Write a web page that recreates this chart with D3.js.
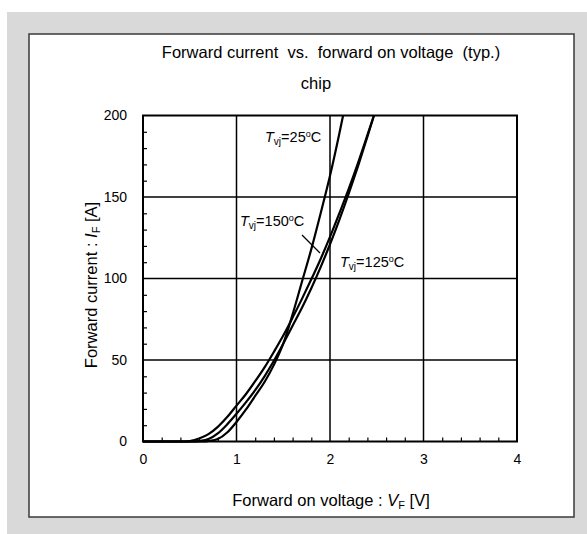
<!DOCTYPE html>
<html>
<head>
<meta charset="utf-8">
<script src="https://cdn.jsdelivr.net/npm/d3@7"></script>
<style>
  html, body { margin: 0; padding: 0; background: #fff; }
  svg { display: block; font-family: "Liberation Sans", Arial, sans-serif; }
  text { white-space: pre; }
</style>
</head>
<body>
<svg id="chart" width="587" height="534"></svg>
<script>
// Forward characteristic of the diode chip at three junction temperatures
const xTicks = [0, 1, 2, 3, 4];
const yTicks = [0, 50, 100, 150, 200];

// [V_F (V), I_F (A)]
const curve25 = [[0,0],[0.65,0],[0.7,0.3],[0.8,1.5],[0.9,5.5],[1.0,12],[1.1,19.5],[1.2,28],[1.3,36.5],
  [1.4,47],[1.5,60],[1.6,78],[1.7,98],[1.8,118],[1.9,140],[2.0,163],[2.1,189],[2.14,200]];
const curve150 = [[0,0],[0.45,0],[0.5,0.3],[0.6,1.8],[0.7,4.5],[0.8,9],[0.9,15],[1.0,22],[1.1,29],
  [1.2,37],[1.3,45.5],[1.4,55],[1.5,65],[1.6,76],[1.7,87.5],[1.8,99.5],[1.9,112],[2.0,125.5],
  [2.1,140],[2.2,155],[2.3,171],[2.4,188],[2.47,200]];
const curve125 = [[0,0],[0.55,0],[0.6,0.3],[0.7,1.5],[0.8,5],[0.9,10.5],[1.0,17],[1.1,24],[1.2,31.5],
  [1.3,40],[1.4,49.5],[1.5,60],[1.6,71],[1.7,82],[1.8,94],[1.9,107],[2.0,121],[2.1,136],[2.2,152],
  [2.3,169],[2.4,187],[2.47,200]];

const seriesNames = ["25", "150", "125"];
const seriesData = [curve25, curve150, curve125];

const svg = d3.select("#chart");

// outer panel and framed card
svg.append("rect").attr("x", 7).attr("y", 12).attr("width", 580).attr("height", 522).attr("fill", "#d9d9d9");
svg.append("rect").attr("x", 29).attr("y", 34).attr("width", 545).attr("height", 483)
  .attr("fill", "#fff").attr("stroke", "#3a3a3a").attr("stroke-width", 1.5);

const x = d3.scaleLinear().domain([0, 4]).range([143, 517]);
const y = d3.scaleLinear().domain([0, 200]).range([441.5, 115.5]);

// titles
svg.append("text").attr("x", 331).attr("y", 58).attr("text-anchor", "middle")
  .attr("font-size", 16.5).text("Forward current  vs.  forward on voltage  (typ.)");
svg.append("text").attr("x", 316).attr("y", 89).attr("text-anchor", "middle")
  .attr("font-size", 16.5).text("chip");

// grid
const g = svg.append("g");
g.selectAll("line.vg").data(xTicks.slice(1, -1)).join("line")
  .attr("x1", d => x(d)).attr("x2", d => x(d)).attr("y1", y(0)).attr("y2", y(200))
  .attr("stroke", "#000").attr("stroke-width", 1.5);
g.selectAll("line.hg").data(yTicks.slice(1, -1)).join("line")
  .attr("x1", x(0)).attr("x2", x(4)).attr("y1", d => y(d)).attr("y2", d => y(d))
  .attr("stroke", "#000").attr("stroke-width", 1.5);

// minor ticks pointing inward
const minorX = d3.range(0.2, 4, 0.2).filter(v => Math.abs(v - Math.round(v)) > 1e-6);
const minorY = d3.range(10, 200, 10).filter(v => v % 50 !== 0);
svg.append("g").attr("transform", `translate(0,${y(0)})`)
  .call(d3.axisBottom(x).tickValues(minorX).tickSize(-4).tickFormat(""))
  .call(a => a.select(".domain").remove())
  .selectAll("line").attr("stroke", "#000").attr("stroke-width", 1.2);
svg.append("g").attr("transform", `translate(${x(0)},0)`)
  .call(d3.axisLeft(y).tickValues(minorY).tickSize(-4).tickFormat(""))
  .call(a => a.select(".domain").remove())
  .selectAll("line").attr("stroke", "#000").attr("stroke-width", 1.2);

// tick labels
const xAxis = svg.append("g").attr("transform", `translate(0,${y(0)})`)
  .call(d3.axisBottom(x).tickValues(xTicks).tickSize(0).tickPadding(13).tickFormat(d3.format("d")));
xAxis.select(".domain").remove();
xAxis.selectAll("text").attr("font-size", 14).attr("fill", "#000").attr("font-family", "Liberation Sans, Arial, sans-serif");
const yAxis = svg.append("g").attr("transform", `translate(${x(0)},0)`)
  .call(d3.axisLeft(y).tickValues(yTicks).tickSize(0).tickPadding(16).tickFormat(d3.format("d")));
yAxis.select(".domain").remove();
yAxis.selectAll("text").attr("font-size", 14).attr("fill", "#000").attr("font-family", "Liberation Sans, Arial, sans-serif");

// curves
const line = d3.line().x(d => x(d[0])).y(d => y(d[1])).curve(d3.curveMonotoneX);
svg.append("g").selectAll("path").data(seriesData).join("path")
  .attr("d", line).attr("fill", "none").attr("stroke", "#000").attr("stroke-width", 2.2)
  .attr("stroke-linejoin", "round");

// plot frame
svg.append("rect").attr("x", x(0)).attr("y", y(200)).attr("width", x(4) - x(0)).attr("height", y(0) - y(200))
  .attr("fill", "none").attr("stroke", "#000").attr("stroke-width", 2);

// curve labels
function tLabel(px, py, temp) {
  const t = svg.append("text").attr("x", px).attr("y", py).attr("font-size", 14.5);
  t.append("tspan").attr("font-style", "italic").text("T");
  t.append("tspan").attr("font-size", 10).attr("dy", 3).text("vj");
  t.append("tspan").attr("dy", -3).text("=" + temp);
  t.append("tspan").attr("font-size", 9).attr("dy", -5).text("o");
  t.append("tspan").attr("dy", 5).text("C");
}
tLabel(265, 142, seriesNames[0]);
tLabel(240, 226, seriesNames[1]);
tLabel(340, 267, seriesNames[2]);
svg.append("line").attr("x1", 302).attr("y1", 235).attr("x2", 320).attr("y2", 253)
  .attr("stroke", "#000").attr("stroke-width", 1.2);

// axis titles
const xl = svg.append("text").attr("x", 331).attr("y", 506).attr("text-anchor", "middle").attr("font-size", 16.5);
xl.append("tspan").text("Forward on voltage : ");
xl.append("tspan").attr("font-style", "italic").text("V");
xl.append("tspan").attr("font-size", 11).attr("dy", 3).text("F");
xl.append("tspan").attr("dy", -3).text(" [V]");

const yl = svg.append("text").attr("transform", "translate(97,285) rotate(-90)")
  .attr("text-anchor", "middle").attr("font-size", 16.5);
yl.append("tspan").text("Forward current : ");
yl.append("tspan").attr("font-style", "italic").text("I");
yl.append("tspan").attr("font-size", 11).attr("dy", 3).text("F");
yl.append("tspan").attr("dy", -3).text(" [A]");
</script>
</body>
</html>
